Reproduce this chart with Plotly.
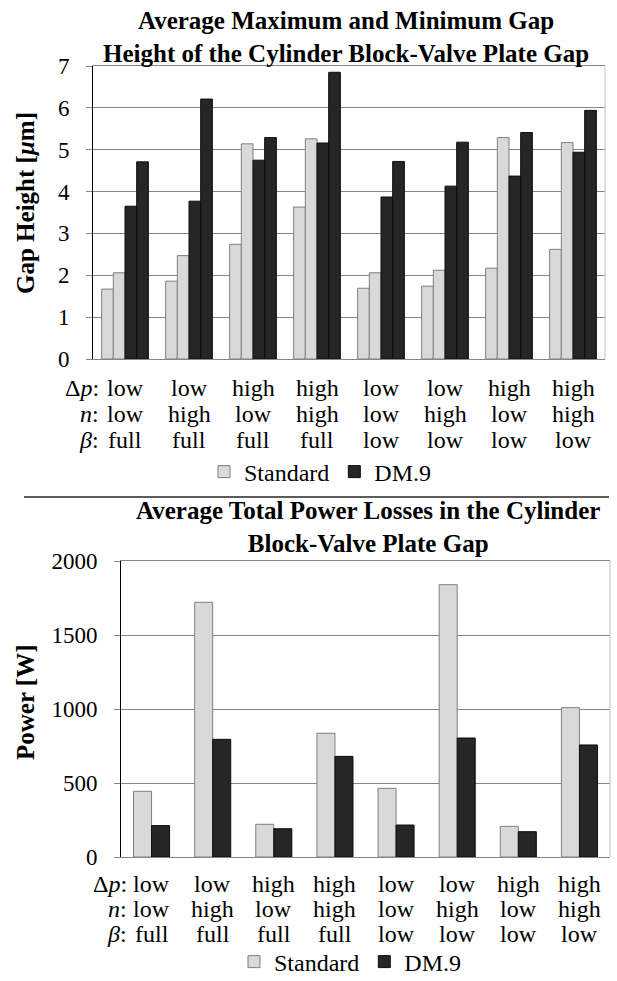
import plotly.graph_objects as go

W, H = 617, 981


def px(x):
    return x / W


def py(y):
    return 1 - y / H


FONT = "Liberation Serif"

# operating conditions per group
dp_levels = ["low", "low", "high", "high", "low", "low", "high", "high"]
n_levels = ["low", "high", "low", "high", "low", "high", "low", "high"]
beta_levels = ["full", "full", "full", "full", "low", "low", "low", "low"]

# gap height [um]: min / max for each design
std_min = [1.67, 1.86, 2.74, 3.63, 1.69, 1.74, 2.17, 2.62]
std_max = [2.06, 2.47, 5.14, 5.26, 2.06, 2.12, 5.29, 5.17]
dm_min = [3.65, 3.77, 4.75, 5.16, 3.87, 4.13, 4.37, 4.94]
dm_max = [4.71, 6.21, 5.29, 6.85, 4.72, 5.18, 5.41, 5.94]

# total power losses [W]
std_power = [444, 1721, 221, 836, 464, 1840, 207, 1009]
dm_power = [212, 795, 191, 680, 216, 804, 171, 757]

x_idx = list(range(len(dp_levels)))

LIGHT = dict(color="#d9d9d9", line=dict(color="#7f7f7f", width=1))
DARK = dict(color="#262626", line=dict(color="#0d0d0d", width=1))

fig = go.Figure()

# top chart: four bars per group
w4 = 0.1825
for i, (vals, mk, name, show) in enumerate([
    (std_min, LIGHT, "Standard", True),
    (std_max, LIGHT, "Standard", False),
    (dm_min, DARK, "DM.9", True),
    (dm_max, DARK, "DM.9", False),
]):
    fig.add_trace(go.Bar(
        x=x_idx, y=vals, width=w4, offset=-2 * w4 + i * w4,
        marker=mk, name=name, showlegend=show, legend="legend",
        xaxis="x", yaxis="y",
    ))

# bottom chart: two bars per group
w2 = 0.295
for i, (vals, mk, name) in enumerate([
    (std_power, LIGHT, "Standard"),
    (dm_power, DARK, "DM.9"),
]):
    fig.add_trace(go.Bar(
        x=x_idx, y=vals, width=w2, offset=-w2 + i * w2,
        marker=mk, name=name, showlegend=True, legend="legend2",
        xaxis="x2", yaxis="y2",
    ))

GRID = "#868686"
common_x = dict(range=[-0.5, 7.5], showticklabels=False, showgrid=False,
                showline=True, linecolor=GRID, linewidth=1, mirror=True,
                ticks="", zeroline=False, fixedrange=True)
common_y = dict(showgrid=True, gridcolor=GRID, gridwidth=1, showline=True,
                linecolor="black", linewidth=1, ticks="outside", ticklen=6,
                tickcolor=GRID, zeroline=False, ticklabelstandoff=12,
                tickfont=dict(family=FONT, size=23, color="black"))

LEG_FONT = dict(family=FONT, size=24, color="black")

fig.update_layout(
    width=W, height=H,
    margin=dict(l=0, r=0, t=0, b=0, autoexpand=False),
    paper_bgcolor="white", plot_bgcolor="white",
    barmode="overlay", font=dict(family=FONT, color="black"),
    xaxis=dict(domain=[px(93), px(605)], anchor="y", **common_x),
    yaxis=dict(domain=[py(359), py(66)], anchor="x", range=[0, 7], dtick=1,
               **common_y),
    xaxis2=dict(domain=[px(121), px(610)], anchor="y2", **common_x),
    yaxis2=dict(domain=[py(857), py(561)], anchor="x2", range=[0, 2000],
                dtick=500, **common_y),
    legend=dict(orientation="h", x=px(320), xanchor="center", y=py(472),
                yanchor="middle", font=LEG_FONT,
                bgcolor="rgba(0,0,0,0)", traceorder="normal"),
    legend2=dict(orientation="h", x=px(350), xanchor="center", y=py(962),
                 yanchor="middle", font=LEG_FONT,
                 bgcolor="rgba(0,0,0,0)", traceorder="normal"),
    showlegend=True,
)

# right-hand border of both plot areas
for xr, yr in [("x", "y"), ("x2", "y2")]:
    fig.add_shape(type="line", xref=f"{xr} domain", yref=f"{yr} domain",
                  x0=1, x1=1, y0=0, y1=1, line=dict(color="#bfbfbf", width=1))

# separator between the two charts
fig.add_shape(type="line", xref="paper", yref="paper", x0=px(24), x1=px(609),
              y0=py(497), y1=py(497), line=dict(color="#262626", width=1.5))

TITLE_FONT = dict(family=FONT, size=25, color="black")
ann = []
# titles
ann.append(dict(text="<b>Average Maximum and Minimum Gap<br>Height of the Cylinder Block-Valve Plate Gap</b>",
                x=px(346), y=py(37), xref="paper", yref="paper",
                xanchor="center", yanchor="middle", showarrow=False,
                font=TITLE_FONT))
ann.append(dict(text="<b>Average Total Power Losses in the Cylinder<br>Block-Valve Plate Gap</b>",
                x=px(368), y=py(527), xref="paper", yref="paper",
                xanchor="center", yanchor="middle", showarrow=False,
                font=TITLE_FONT))
# y-axis titles
ann.append(dict(text="<b>Gap Height [<i>μ</i>m]</b>", x=px(25), y=py(203),
                xref="paper", yref="paper", textangle=-90, showarrow=False,
                xanchor="center", yanchor="middle",
                font=dict(family=FONT, size=25)))
ann.append(dict(text="<b>Power [W]</b>", x=px(25), y=py(703),
                xref="paper", yref="paper", textangle=-90, showarrow=False,
                xanchor="center", yanchor="middle",
                font=dict(family=FONT, size=25)))

# category label rows under each chart
LAB_FONT = dict(family=FONT, size=24, color="black")
prefixes = ["Δ<i>p</i>:", "<i>n</i>:", "<i>β</i>:"]
rows = [dp_levels, n_levels, beta_levels]
for xr, pre_x, row_y in [("x", 101, [388, 414, 440]), ("x2", 129, [884, 909, 934])]:
    for pre, levels, yy in zip(prefixes, rows, row_y):
        ann.append(dict(text=pre, x=px(pre_x), y=py(yy), xref="paper",
                        yref="paper", xanchor="right", yanchor="middle",
                        showarrow=False, font=LAB_FONT))
        for xi, lab in zip(x_idx, levels):
            ann.append(dict(text=lab, x=xi, y=py(yy), xref=xr, yref="paper",
                            xanchor="center", yanchor="middle",
                            showarrow=False, font=LAB_FONT))

fig.update_layout(annotations=ann)
fig.write_html("out.html")
